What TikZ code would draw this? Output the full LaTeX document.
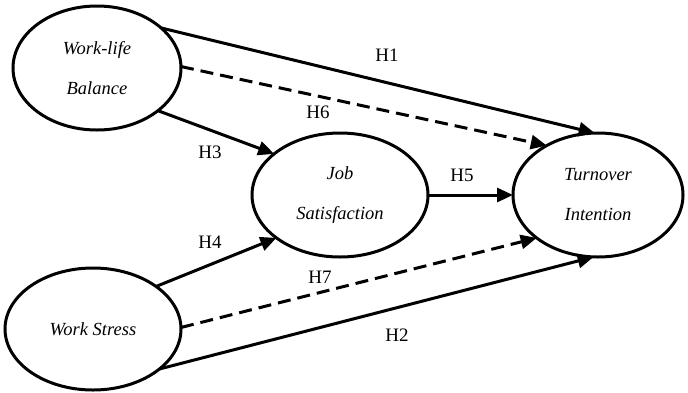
\documentclass[tikz,border=0pt]{standalone}
\usepackage{fontspec}
\setmainfont{Liberation Serif}
\usetikzlibrary{shapes.geometric,arrows.meta}
\begin{document}
\begin{tikzpicture}[x=1pt,y=-1pt,
  construct/.style={draw, ellipse, line width=3pt, inner sep=0pt, outer sep=0pt,
    align=center, font=\fontsize{18.5}{40}\selectfont\itshape},
  path/.style={line width=3pt, -{Triangle[length=16pt,width=14pt]}},
  dpath/.style={path, dash pattern=on 13pt off 7pt},
  hlab/.style={font=\fontsize{19}{20}\selectfont, inner sep=0pt}]
\useasboundingbox (0,0) rectangle (688,392);
\node[construct, minimum width=168pt, minimum height=124pt] (wlb) at (97,68) {Work-life\\Balance};
\node[construct, minimum width=176pt, minimum height=124pt] (js) at (340,195) {Job\\Satisfaction};
\node[construct, minimum width=170pt, minimum height=124pt] (ti) at (598,195) {Turnover\\Intention};
\node[construct, minimum width=176pt, minimum height=122pt] (ws) at (93,329) {Work Stress};
\draw[path] (wlb.32) -- (ti.93);
\draw[dpath] (wlb.1) -- (ti.136);
\draw[path] (wlb.-35) -- (js.148);
\draw[path] (js.east) -- (ti.west);
\draw[path] (ws.34) -- (js.214);
\draw[dpath] (ws.1) -- (ti.215);
\draw[path] (ws.-31) -- (ti.266);
\node[hlab] (h1) at (387,55) {H1};
\node[hlab] (h6) at (318,112) {H6};
\node[hlab] (h3) at (210,152) {H3};
\node[hlab] (h5) at (462,175) {H5};
\node[hlab] (h4) at (210,242) {H4};
\node[hlab] (h7) at (320,277) {H7};
\node[hlab] (h2) at (397,335) {H2};
\end{tikzpicture}
\end{document}
